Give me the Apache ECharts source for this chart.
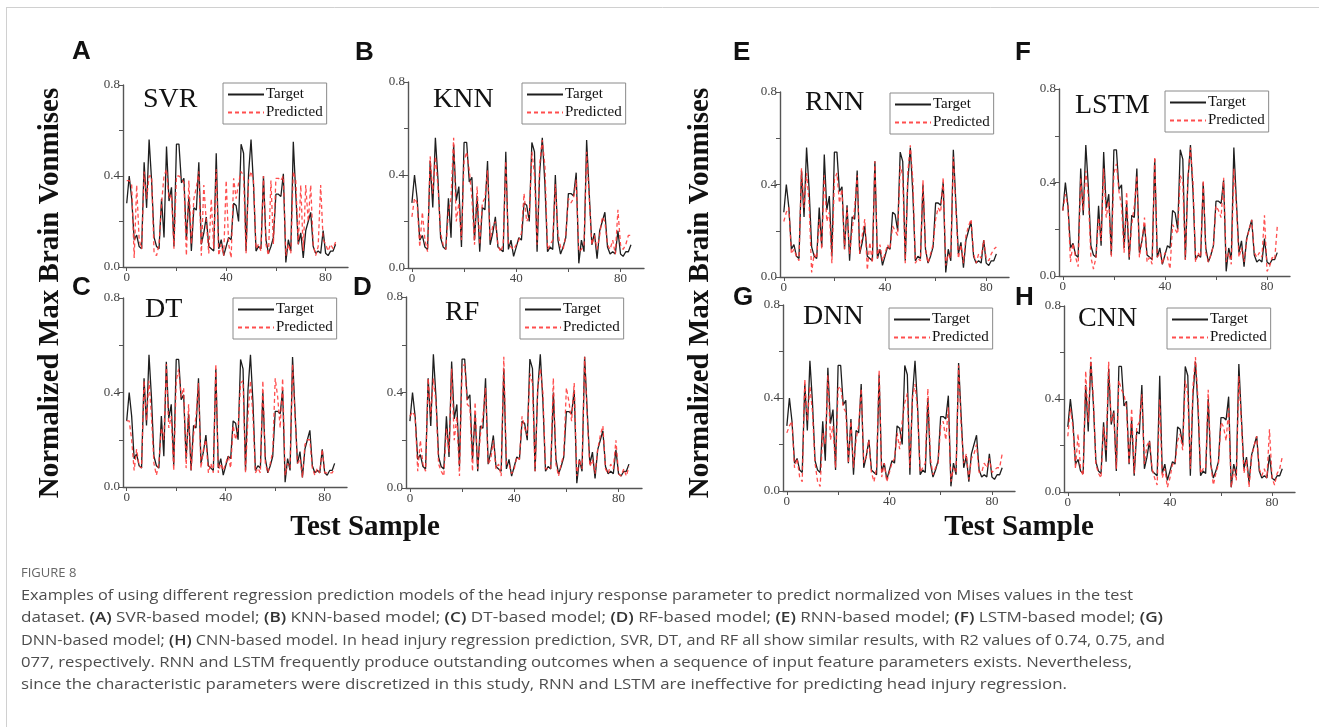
<!DOCTYPE html>
<html>
<head>
<meta charset="utf-8">
<script src="https://cdn.jsdelivr.net/npm/echarts@6/dist/echarts.min.js"></script>
<style>
html,body{margin:0;padding:0;background:#fff;}
#chart{width:1319px;height:727px;}
</style>
</head>
<body>
<div id="chart"></div>
<script>
// ---------------- DATA ----------------
const panelLetters = ['A','B','C','D','E','F','G','H'];
const modelNames = ['SVR','KNN','DT','RF','RNN','LSTM','DNN','CNN'];
const xTickLabels = [0, 40, 80];
const yTickLabels = [0, 0.4, 0.8];

const target = [0.28,0.40,0.30,0.12,0.14,0.09,0.08,0.46,0.26,0.56,0.38,0.13,0.09,0.08,0.30,0.13,0.53,0.29,0.35,0.09,
0.54,0.54,0.37,0.39,0.12,0.31,0.07,0.26,0.25,0.46,0.10,0.15,0.22,0.09,0.08,0.07,0.50,0.08,0.12,0.05,
0.09,0.13,0.12,0.28,0.27,0.20,0.54,0.50,0.07,0.41,0.56,0.36,0.07,0.09,0.08,0.40,0.12,0.06,0.09,0.13,
0.32,0.32,0.31,0.41,0.02,0.12,0.07,0.55,0.32,0.10,0.15,0.04,0.16,0.20,0.24,0.09,0.06,0.07,0.06,0.16,
0.06,0.05,0.07,0.07,0.10];

const predSVR = [0.38,0.38,0.36,0.04,0.36,0.12,0.08,0.42,0.30,0.40,0.40,0.06,0.05,0.10,0.28,0.40,0.43,0.30,0.32,0.08,
0.40,0.40,0.39,0.37,0.05,0.38,0.10,0.30,0.35,0.42,0.05,0.36,0.20,0.06,0.30,0.08,0.43,0.05,0.10,0.05,
0.38,0.10,0.04,0.39,0.30,0.37,0.42,0.40,0.06,0.38,0.42,0.38,0.08,0.10,0.07,0.40,0.10,0.05,0.38,0.10,
0.39,0.39,0.38,0.40,0.05,0.10,0.06,0.42,0.38,0.10,0.36,0.07,0.36,0.20,0.36,0.10,0.05,0.09,0.36,0.12,
0.10,0.07,0.10,0.08,0.11];

const predKNN = [0.22,0.30,0.28,0.09,0.24,0.12,0.07,0.48,0.32,0.48,0.35,0.15,0.10,0.08,0.24,0.30,0.56,0.20,0.28,0.12,
0.46,0.50,0.42,0.30,0.10,0.35,0.10,0.28,0.30,0.42,0.12,0.18,0.20,0.10,0.07,0.10,0.46,0.10,0.09,0.08,
0.10,0.12,0.15,0.32,0.20,0.22,0.50,0.40,0.10,0.45,0.55,0.44,0.08,0.10,0.12,0.36,0.15,0.09,0.08,0.14,
0.30,0.28,0.30,0.38,0.07,0.08,0.10,0.50,0.30,0.10,0.14,0.08,0.14,0.22,0.20,0.10,0.08,0.12,0.06,0.25,
0.10,0.08,0.10,0.14,0.14];

const predDT = [0.28,0.28,0.20,0.07,0.16,0.09,0.08,0.45,0.28,0.45,0.30,0.10,0.05,0.10,0.25,0.20,0.52,0.25,0.30,0.07,
0.45,0.50,0.38,0.42,0.08,0.35,0.07,0.22,0.30,0.44,0.08,0.16,0.20,0.06,0.10,0.06,0.52,0.06,0.10,0.07,
0.10,0.13,0.08,0.26,0.20,0.25,0.44,0.45,0.06,0.30,0.45,0.30,0.06,0.08,0.06,0.45,0.10,0.06,0.10,0.15,
0.46,0.38,0.25,0.46,0.05,0.10,0.08,0.52,0.30,0.10,0.12,0.04,0.18,0.20,0.20,0.08,0.05,0.08,0.06,0.16,
0.06,0.06,0.06,0.06,0.08];

const predRF = [0.30,0.32,0.30,0.07,0.20,0.10,0.07,0.46,0.30,0.46,0.36,0.10,0.07,0.05,0.25,0.15,0.50,0.20,0.30,0.05,
0.50,0.52,0.35,0.34,0.07,0.36,0.08,0.22,0.30,0.42,0.10,0.12,0.20,0.08,0.10,0.05,0.55,0.10,0.10,0.06,
0.08,0.13,0.12,0.30,0.25,0.22,0.48,0.44,0.07,0.42,0.50,0.40,0.08,0.08,0.08,0.46,0.10,0.05,0.10,0.14,
0.42,0.36,0.28,0.44,0.05,0.12,0.08,0.55,0.30,0.09,0.12,0.06,0.16,0.22,0.26,0.08,0.06,0.10,0.08,0.20,
0.06,0.05,0.08,0.05,0.09];

const predRNN = [0.24,0.28,0.30,0.10,0.12,0.09,0.07,0.47,0.30,0.45,0.32,0.02,0.10,0.08,0.25,0.12,0.44,0.24,0.28,0.06,
0.42,0.45,0.32,0.38,0.12,0.30,0.10,0.20,0.30,0.44,0.10,0.18,0.25,0.03,0.15,0.06,0.50,0.08,0.14,0.07,
0.10,0.14,0.12,0.22,0.20,0.18,0.48,0.44,0.06,0.45,0.57,0.42,0.06,0.08,0.07,0.42,0.12,0.06,0.10,0.14,
0.25,0.30,0.28,0.43,0.05,0.10,0.08,0.52,0.30,0.08,0.14,0.06,0.18,0.22,0.25,0.10,0.06,0.10,0.08,0.16,
0.08,0.07,0.10,0.12,0.13];

const predLSTM = [0.28,0.35,0.30,0.06,0.14,0.08,0.04,0.42,0.28,0.45,0.34,0.08,0.03,0.08,0.25,0.15,0.46,0.25,0.32,0.08,
0.44,0.48,0.36,0.30,0.10,0.36,0.08,0.22,0.30,0.43,0.08,0.15,0.25,0.06,0.08,0.05,0.51,0.08,0.10,0.05,
0.10,0.08,0.03,0.22,0.20,0.18,0.43,0.40,0.07,0.42,0.55,0.40,0.06,0.10,0.08,0.41,0.10,0.06,0.09,0.13,
0.30,0.28,0.25,0.42,0.06,0.10,0.05,0.46,0.30,0.08,0.12,0.06,0.15,0.20,0.24,0.10,0.08,0.10,0.08,0.26,
0.02,0.04,0.08,0.07,0.21];

const predDNN = [0.25,0.28,0.30,0.10,0.14,0.06,0.04,0.48,0.30,0.45,0.34,0.12,0.04,0.02,0.25,0.20,0.50,0.22,0.28,0.10,
0.44,0.45,0.36,0.34,0.12,0.30,0.10,0.22,0.28,0.44,0.12,0.15,0.22,0.08,0.04,0.10,0.52,0.06,0.12,0.04,
0.08,0.12,0.14,0.25,0.18,0.30,0.38,0.42,0.10,0.40,0.46,0.35,0.08,0.10,0.12,0.44,0.14,0.07,0.10,0.12,
0.28,0.30,0.22,0.36,0.04,0.10,0.08,0.54,0.28,0.12,0.16,0.05,0.14,0.16,0.20,0.08,0.08,0.12,0.10,0.14,
0.08,0.09,0.10,0.10,0.16];

const predCNN = [0.24,0.36,0.28,0.10,0.25,0.10,0.07,0.52,0.30,0.58,0.40,0.12,0.08,0.06,0.28,0.18,0.56,0.30,0.34,0.10,
0.48,0.44,0.42,0.36,0.12,0.36,0.08,0.28,0.30,0.42,0.12,0.20,0.22,0.10,0.06,0.03,0.40,0.06,0.10,0.02,
0.06,0.12,0.12,0.22,0.25,0.18,0.48,0.42,0.10,0.45,0.58,0.40,0.08,0.10,0.10,0.44,0.12,0.03,0.08,0.12,
0.30,0.28,0.22,0.36,0.02,0.10,0.05,0.50,0.30,0.08,0.14,0.02,0.15,0.20,0.24,0.10,0.07,0.10,0.06,0.27,
0.06,0.03,0.08,0.10,0.15];

const predictedSets = [predSVR, predKNN, predDT, predRF, predRNN, predLSTM, predDNN, predCNN];

const axisTitleY = 'Normalized Max Brain Vonmises';
const axisTitleX = 'Test Sample';
const figLabel = 'FIGURE 8';
const captionLines = [
  [['n','Examples of using different regression prediction models of the head injury response parameter to predict normalized von Mises values in the test']],
  [['n','dataset. '],['b','(A)'],['n',' SVR-based model; '],['b','(B)'],['n',' KNN-based model; '],['b','(C)'],['n',' DT-based model; '],['b','(D)'],['n',' RF-based model; '],['b','(E)'],['n',' RNN-based model; '],['b','(F)'],['n',' LSTM-based model; '],['b','(G)']],
  [['n','DNN-based model; '],['b','(H)'],['n',' CNN-based model. In head injury regression prediction, SVR, DT, and RF all show similar results, with R2 values of 0.74, 0.75, and']],
  [['n','077, respectively. RNN and LSTM frequently produce outstanding outcomes when a sequence of input feature parameters exists. Nevertheless,']],
  [['n','since the characteristic parameters were discretized in this study, RNN and LSTM are ineffective for predicting head injury regression.']]
];

// ---------------- LAYOUT ----------------
const panels = [
  {grid:[123,85,225,182],  title:[143,102], legend:[223,83],  letter:[72,52]},
  {grid:[408,82,236,186],  title:[433,102], legend:[522,83],  letter:[355,53]},
  {grid:[123,298,224,189], title:[145,312], legend:[233,298], letter:[72,288]},
  {grid:[406,297,236,191], title:[445,315], legend:[520,298], letter:[353,288]},
  {grid:[780,92,229,185],  title:[805,105], legend:[890,93],  letter:[733,53]},
  {grid:[1059,89,231,187], title:[1075,108],legend:[1165,91], letter:[1015,53]},
  {grid:[783,305,232,186], title:[803,319], legend:[889,308], letter:[733,298]},
  {grid:[1064,306,231,186],title:[1078,321],legend:[1167,308],letter:[1015,298]}
];

const SERIF = '"Liberation Serif", "Times New Roman", serif';
const SANS = '"Liberation Sans", Arial, sans-serif';
const CAPF = '"Open Sans", "Noto Sans", sans-serif';

const grids = [], xAxes = [], yAxes = [], series = [], legends = [], graphics = [];

panels.forEach((p, i) => {
  grids.push({left:p.grid[0], top:p.grid[1], width:p.grid[2], height:p.grid[3], containLabel:false});
  xAxes.push({
    type:'value', gridIndex:i, min:-1.5, max:89,
    axisLine:{show:true, onZero:false, lineStyle:{color:'#555', width:1.4}},
    axisTick:{show:true, length:4, customValues:[0,20,40,60,80], lineStyle:{color:'#555', width:1}},
    axisLabel:{customValues:xTickLabels, margin:4, color:'#444', fontFamily:SERIF, fontSize:13},
    splitLine:{show:false}
  });
  yAxes.push({
    type:'value', gridIndex:i, min:0, max:0.8,
    axisLine:{show:true, onZero:false, lineStyle:{color:'#555', width:1.4}},
    axisTick:{show:true, length:4, customValues:[0,0.2,0.4,0.6,0.8], lineStyle:{color:'#555', width:1}},
    axisLabel:{customValues:yTickLabels, margin:3, color:'#444', fontFamily:SERIF, fontSize:13,
      formatter:v => Number(v).toFixed(1)},
    splitLine:{show:false}
  });
  series.push({
    name:'Target', type:'line', xAxisIndex:i, yAxisIndex:i, symbol:'none', z:3,
    lineStyle:{color:'#1e1e1e', width:1.3}, itemStyle:{color:'#1e1e1e'},
    data: target.map((v,k)=>[k,v])
  });
  series.push({
    name:'Predicted', type:'line', xAxisIndex:i, yAxisIndex:i, symbol:'none', z:4,
    lineStyle:{color:'#ff3b3b', width:1.3, type:[4,3], opacity:0.9}, itemStyle:{color:'#ff3b3b'},
    data: predictedSets[i].map((v,k)=>[k,v])
  });
  legends.push({
    orient:'vertical', left:p.legend[0], top:p.legend[1], selectedMode:false,
    data:['Target','Predicted'], itemWidth:36, itemHeight:14, itemGap:3,
    itemStyle:{opacity:0, borderWidth:0},
    padding:[4,4,4,4], borderColor:'#8a8a8a', borderWidth:1, borderRadius:0,
    textStyle:{fontFamily:SERIF, fontSize:15, color:'#111', padding:[0,0,0,-3]}
  });
  graphics.push({type:'text', left:p.title[0], top:p.title[1]-16, silent:true,
    style:{text:modelNames[i], font:'28px '+SERIF, fill:'#111'}});
  graphics.push({type:'text', left:p.letter[0], top:p.letter[1]-13, silent:true,
    style:{text:panelLetters[i], font:'bold 26px '+SANS, fill:'#111'}});
});

[[51,293],[701,293]].forEach(pos => {
  graphics.push({type:'text', x:pos[0], y:pos[1], rotation:Math.PI/2, silent:true,
    style:{text:axisTitleY, font:'bold 29px '+SERIF, fill:'#111', align:'center', verticalAlign:'middle'}});
});
[[365,528],[1019,528]].forEach(pos => {
  graphics.push({type:'text', x:pos[0], y:pos[1], silent:true,
    style:{text:axisTitleX, font:'bold 29px '+SERIF, fill:'#111', align:'center', verticalAlign:'middle'}});
});

graphics.push({type:'line', silent:true, shape:{x1:6,y1:7.5,x2:1319,y2:7.5}, style:{stroke:'#d0d0d0', lineWidth:1}});
graphics.push({type:'line', silent:true, shape:{x1:6.5,y1:7,x2:6.5,y2:727}, style:{stroke:'#d0d0d0', lineWidth:1}});

const capSize = 15;
const normFont = capSize + 'px ' + CAPF;
const boldFont = '600 ' + capSize + 'px ' + CAPF;
const mctx = document.createElement('canvas').getContext('2d');
function measure(parts){
  let w = 0;
  parts.forEach(pt => { mctx.font = pt[0]==='b' ? boldFont : normFont; w += mctx.measureText(pt[1]).width; });
  return w;
}
const capTargets = [1112, 1142, 1144, 1111, 1046];
const capY = [596, 618, 641, 663, 685];
graphics.push({type:'text', x:21, y:573, silent:true,
  style:{text:figLabel, font:'13px '+CAPF, fill:'#666', verticalAlign:'middle'}});
captionLines.forEach((parts, li) => {
  const txt = parts.map(pt => '{' + pt[0] + '|' + pt[1] + '}').join('');
  const natural = measure(parts);
  graphics.push({type:'text', x:21, y:capY[li], scaleX: capTargets[li]/natural, silent:true,
    style:{text:txt, verticalAlign:'middle',
      rich:{n:{font:normFont, fill:'#4d4d4d'}, b:{font:boldFont, fill:'#333'}}}});
});

const chart = echarts.init(document.getElementById('chart'), null, {renderer:'canvas'});
chart.setOption({
  backgroundColor:'#ffffff',
  animation:false,
  grid:grids, xAxis:xAxes, yAxis:yAxes, series:series, legend:legends,
  graphic:{elements:graphics}
});
</script>
</body>
</html>
